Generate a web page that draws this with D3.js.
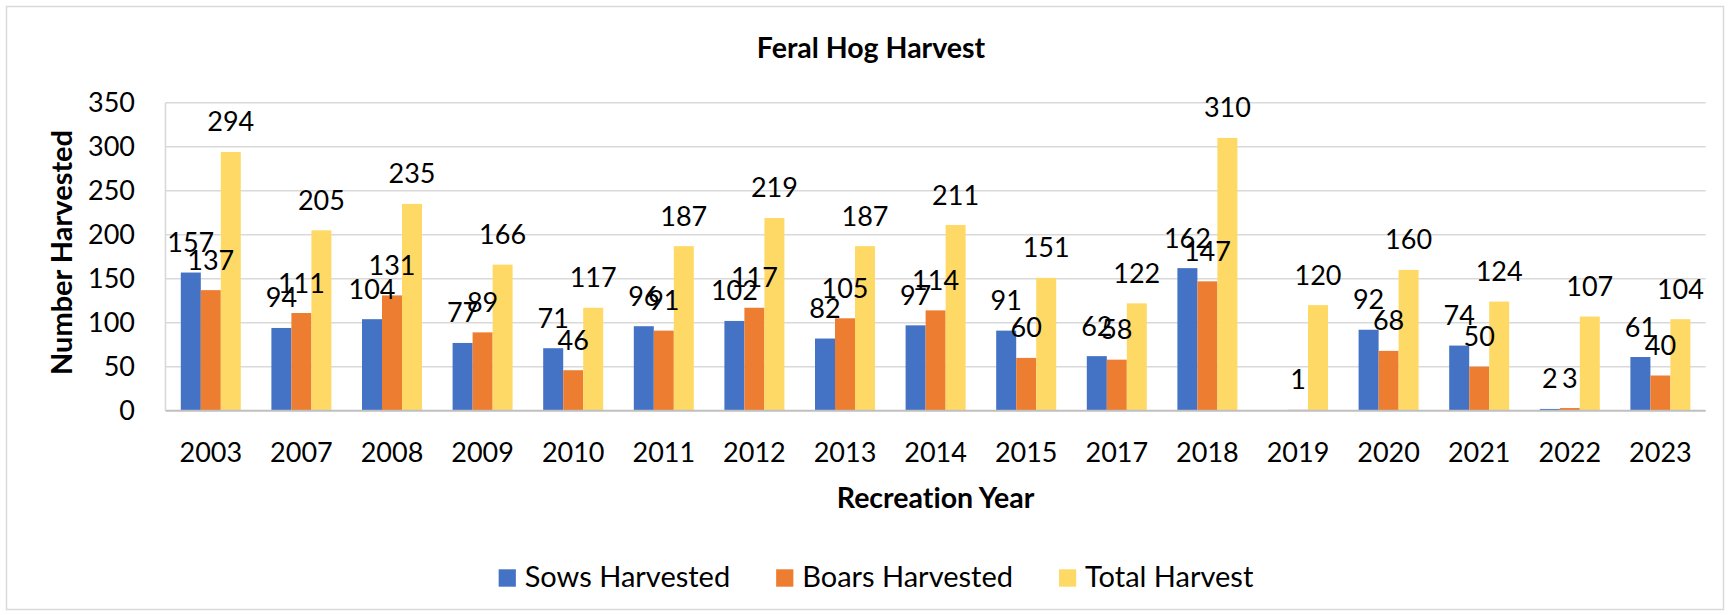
<!DOCTYPE html>
<html>
<head>
<meta charset="utf-8">
<script src="https://cdn.jsdelivr.net/npm/d3@7"></script>
<style>
  html, body { margin: 0; padding: 0; background: #fff; }
  svg { display: block; font-family: Lato, "Open Sans", sans-serif; font-variant-ligatures: none; font-feature-settings: "liga" 0; }
</style>
</head>
<body>
<svg id="chart" width="1730" height="615"></svg>
<script>
const years = ["2003","2007","2008","2009","2010","2011","2012","2013","2014","2015","2017","2018","2019","2020","2021","2022","2023"];
const sows  = [157, 94, 104, 77, 71, 96, 102, 82, 97, 91, 62, 162, null, 92, 74, 2, 61];
const boars = [137, 111, 131, 89, 46, 91, 117, 105, 114, 60, 58, 147, 1, 68, 50, 3, 40];
const total = [294, 205, 235, 166, 117, 187, 219, 187, 211, 151, 122, 310, 120, 160, 124, 107, 104];
const seriesNames = ["Sows Harvested", "Boars Harvested", "Total Harvest"];
const seriesColors = ["#4472C4", "#ED7D31", "#FFD966"];
const yTicks = [0, 50, 100, 150, 200, 250, 300, 350];

const title = "Feral Hog Harvest";
const xTitle = "Recreation Year";
const yTitle = "Number Harvested";

const svg = d3.select("#chart");

// chart area border
svg.append("rect").attr("x", 6.5).attr("y", 6.5).attr("width", 1717).attr("height", 603)
  .attr("fill", "#fff").attr("stroke", "#D9D9D9").attr("stroke-width", 1.5);

const plot = {left: 165.5, right: 1705.7, top: 102.7, bottom: 410.7};

const x = d3.scaleBand().domain(years).range([plot.left, plot.right]).paddingInner(0).paddingOuter(0);
const xs = d3.scaleBand().domain(seriesNames).range([0, x.bandwidth()]).paddingInner(0).paddingOuter(0.765);
const y = d3.scaleLinear().domain([0, 350]).range([plot.bottom, plot.top]);

// gridlines
svg.append("g").selectAll("line").data(yTicks.filter(d => d > 0)).join("line")
  .attr("x1", plot.left).attr("x2", plot.right)
  .attr("y1", d => y(d)).attr("y2", d => y(d))
  .attr("stroke", "#D9D9D9").attr("stroke-width", 1.6);

// left axis line
svg.append("line").attr("x1", plot.left).attr("x2", plot.left)
  .attr("y1", plot.top).attr("y2", plot.bottom)
  .attr("stroke", "#D9D9D9").attr("stroke-width", 1.6);

// y tick labels
svg.append("g").selectAll("text").data(yTicks).join("text")
  .attr("x", 135).attr("y", d => y(d)).attr("dy", "0.35em")
  .attr("text-anchor", "end").attr("font-size", 27).attr("fill", "#000")
  .text(d => d);

// bars
const seriesData = [sows, boars, total];
const barG = svg.append("g");
seriesData.forEach((vals, si) => {
  const name = seriesNames[si];
  const pts = years.map((yr, i) => ({yr, v: vals[i]})).filter(d => d.v !== null);
  barG.append("g").selectAll("rect").data(pts).join("rect")
    .attr("x", d => x(d.yr) + xs(name))
    .attr("width", xs.bandwidth())
    .attr("y", d => y(d.v))
    .attr("height", d => y(0) - y(d.v))
    .attr("fill", seriesColors[si]);
});

// bottom axis line
svg.append("line").attr("x1", plot.left).attr("x2", plot.right)
  .attr("y1", plot.bottom).attr("y2", plot.bottom)
  .attr("stroke", "#BFBFBF").attr("stroke-width", 2);

// data labels
const labG = svg.append("g");
seriesData.forEach((vals, si) => {
  const name = seriesNames[si];
  const pts = years.map((yr, i) => ({yr, v: vals[i]})).filter(d => d.v !== null);
  labG.append("g").selectAll("text").data(pts).join("text")
    .attr("x", d => x(d.yr) + xs(name) + xs.bandwidth() / 2)
    .attr("y", d => y(d.v) - 20.5)
    .attr("text-anchor", "middle").attr("font-size", 27).attr("fill", "#000")
    .text(d => d.v);
});

// x tick labels
svg.append("g").selectAll("text").data(years).join("text")
  .attr("x", d => x(d) + x.bandwidth() / 2).attr("y", 461.7)
  .attr("text-anchor", "middle").attr("font-size", 27).attr("fill", "#000")
  .text(d => d);

// titles
svg.append("text").attr("x", 871).attr("y", 57.7).attr("text-anchor", "middle")
  .attr("font-size", 28.5).attr("font-weight", "bold").text(title);
svg.append("text").attr("x", (plot.left + plot.right) / 2).attr("y", 508)
  .attr("text-anchor", "middle").attr("font-size", 28.5).attr("font-weight", "bold").text(xTitle);
svg.append("text").attr("transform", "translate(71.5,252.5) rotate(-90)")
  .attr("text-anchor", "middle").attr("font-size", 29).attr("font-weight", "bold").text(yTitle);

// legend
const leg = svg.append("g");
let cx = 0;
seriesNames.forEach((n, i) => {
  const g = leg.append("g");
  g.append("rect").attr("x", 0).attr("y", -17.4).attr("width", 17.2).attr("height", 17.4).attr("fill", seriesColors[i]);
  const t = g.append("text").attr("x", 26).attr("y", 0).attr("font-size", 29).attr("fill", "#000").text(n);
  const w = 26 + t.node().getComputedTextLength();
  g.attr("transform", `translate(${cx},0)`);
  cx += w + 46;
});
const legW = cx - 46;
leg.attr("transform", `translate(${876 - legW / 2},586.7)`);
</script>
</body>
</html>
